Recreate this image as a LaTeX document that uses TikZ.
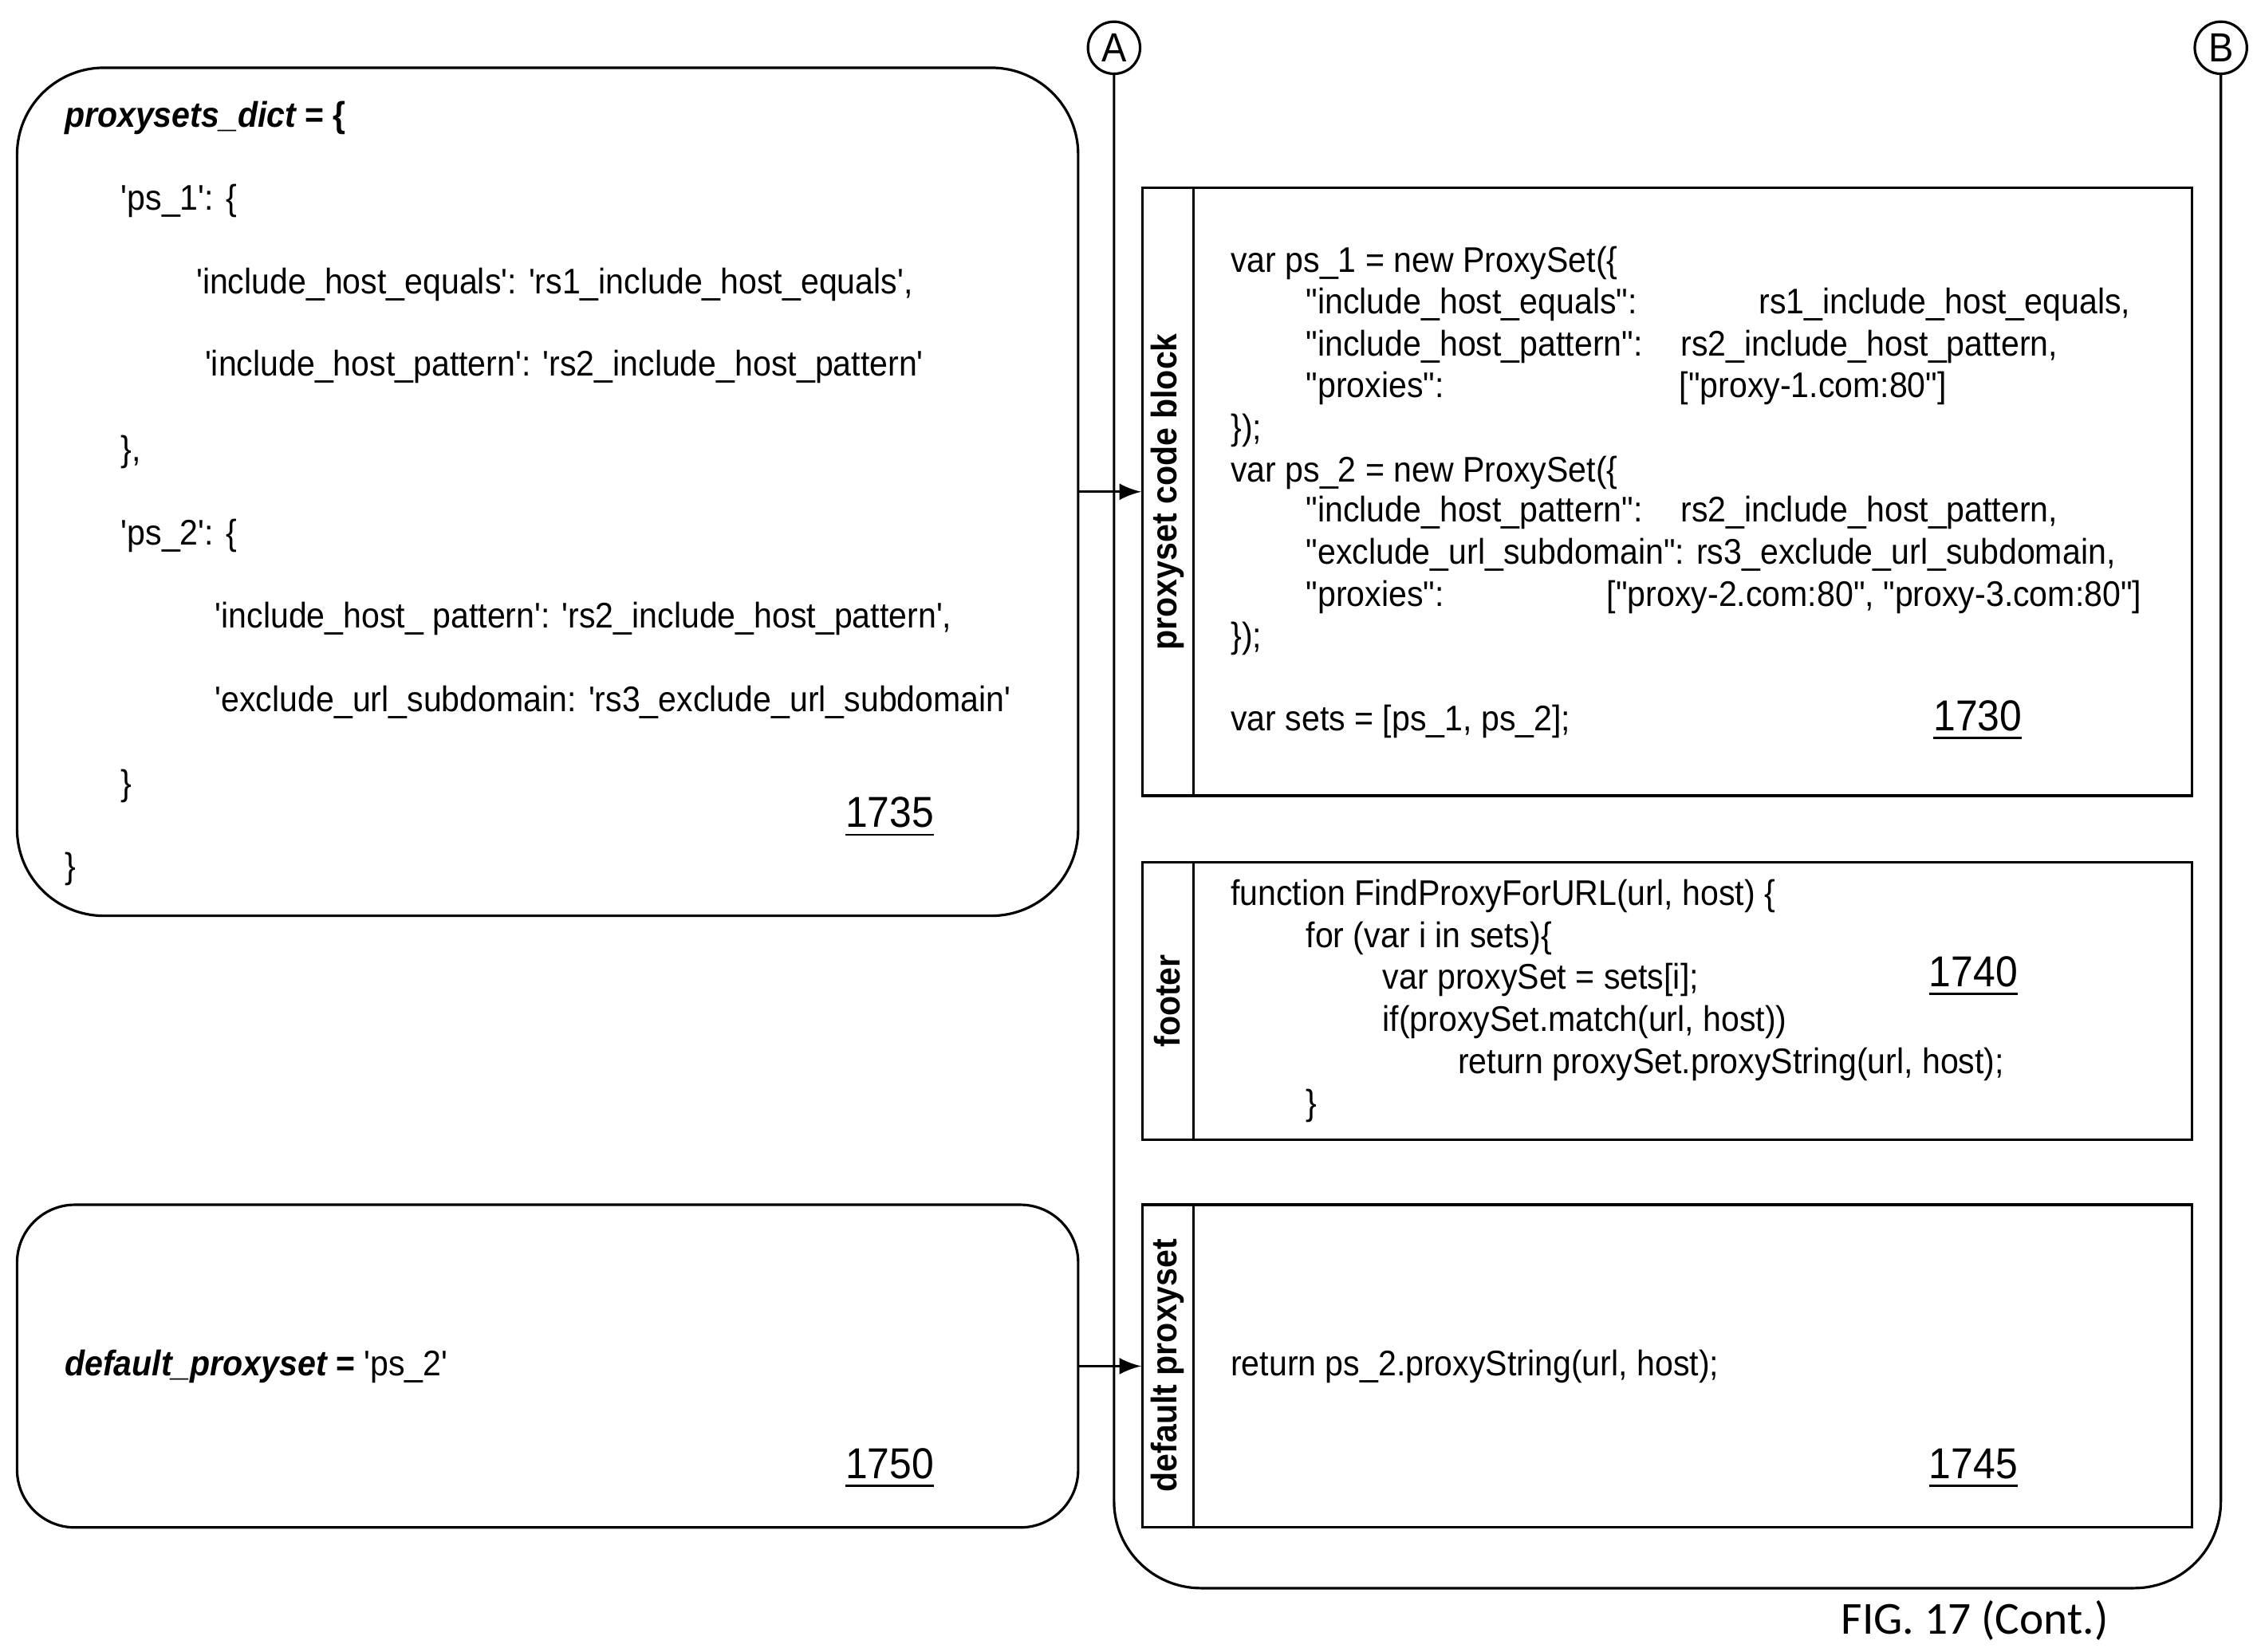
\documentclass[tikz,border=0pt]{standalone}
\usepackage{fontspec}
\newfontfamily\cf{Liberation Sans}[FakeStretch=0.92]
\newfontfamily\fig{Carlito}
\begin{document}
\begin{tikzpicture}[x=0.01cm,y=-0.01cm,
  t/.style={anchor=base west,inner sep=0,font=\cf\fontsize{7}{8}\selectfont},
  num/.style={anchor=base,inner sep=0,font=\cf\fontsize{8.5}{10}\selectfont},
  vl/.style={rotate=90,inner sep=0,font=\cf\bfseries\fontsize{7}{8}\selectfont},
  ln/.style={line width=0.5pt}]
\useasboundingbox (0,0) rectangle (1560,1142);
% left boxes
\node[draw,ln,rounded corners=0.6cm,minimum width=7.33cm,minimum height=5.86cm,inner sep=0] (lb1) at (378.5,340) {};
\node[draw,ln,rounded corners=0.4cm,minimum width=7.33cm,minimum height=2.23cm,inner sep=0] (lb2) at (378.5,944.5) {};
% connectors A/B
\node[draw,circle,ln,minimum size=0.36cm,inner sep=0,font=\cf\fontsize{8}{9}\selectfont] (A) at (770,33) {A};
\node[draw,circle,ln,minimum size=0.36cm,inner sep=0,font=\cf\fontsize{8}{9}\selectfont] (B) at (1535,33) {B};
\draw[ln,rounded corners=0.6cm] (A.south) -- (770,1098) -- (1535,1098) -- (B.south);
% right boxes
\node[draw,ln,fill=white,minimum width=7.25cm,minimum height=4.2cm,inner sep=0] (r1) at (1152.5,340) {};
\node[draw,ln,fill=white,minimum width=7.25cm,minimum height=1.92cm,inner sep=0] (r2) at (1152.5,692) {};
\node[draw,ln,fill=white,minimum width=7.25cm,minimum height=2.23cm,inner sep=0] (r3) at (1152.5,944.5) {};
\draw[ln] (825,130) -- (825,550) (825,596) -- (825,788) (825,833) -- (825,1056);
\node[vl] at (807,340) {proxyset code block};
\node[vl] at (807,692) {footer};
\node[vl] at (807,944) {default proxyset};
\draw[ln,-latex] (lb1.east) -- (r1.west);
\draw[ln,-latex] (lb2.east) -- (r3.west);
% left text
\node[t] at (44,88) {\bfseries\itshape proxysets\_dict\upshape{} = \{};
\node[t] at (83,145) {'ps\_1': \{};
\node[t] at (135,203) {'include\_host\_equals': 'rs1\_include\_host\_equals',};
\node[t] at (141,260) {'include\_host\_pattern': 'rs2\_include\_host\_pattern'};
\node[t] at (83,319) {\},};
\node[t] at (83,377) {'ps\_2': \{};
\node[t] at (148,434) {'include\_host\_ pattern': 'rs2\_include\_host\_pattern',};
\node[t] at (148,492) {'exclude\_url\_subdomain: 'rs3\_exclude\_url\_subdomain'};
\node[t] at (83,550) {\}};
\node[t] at (44,607) {\}};
\node[num] at (615,572) {\underline{1735}};
\node[t] at (44,951) {\bfseries\itshape default\_proxyset\upshape\mdseries{} \bfseries=\mdseries{} 'ps\_2'};
\node[num] at (615,1022) {\underline{1750}};
% right text
\node[t] at (850,188) {var ps\_1 = new ProxySet(\{};
\node[t] at (902,217) {"include\_host\_equals":};
\node[t] at (1215,217) {rs1\_include\_host\_equals,};
\node[t] at (902,246) {"include\_host\_pattern":};
\node[t] at (1161,246) {rs2\_include\_host\_pattern,};
\node[t] at (902,275) {"proxies":};
\node[t] at (1160,275) {["proxy-1.com:80"]};
\node[t] at (850,304) {\});};
\node[t] at (850,333) {var ps\_2 = new ProxySet(\{};
\node[t] at (902,361) {"include\_host\_pattern":};
\node[t] at (1161,361) {rs2\_include\_host\_pattern,};
\node[t] at (902,390) {"exclude\_url\_subdomain": rs3\_exclude\_url\_subdomain,};
\node[t] at (902,419) {"proxies":};
\node[t] at (1110,419) {["proxy-2.com:80", "proxy-3.com:80"]};
\node[t] at (850,448) {\});};
\node[t] at (850,505) {var sets = [ps\_1, ps\_2];};
\node[num] at (1367,505) {\underline{1730}};
\node[t] at (850,626) {function FindProxyForURL(url, host) \{};
\node[t] at (902,655) {for (var i in sets)\{};
\node[t] at (955,684) {var proxySet = sets[i];};
\node[t] at (955,713) {if(proxySet.match(url, host))};
\node[t] at (1007,742) {return proxySet.proxyString(url, host);};
\node[t] at (902,771) {\}};
\node[num] at (1364,682) {\underline{1740}};
\node[t] at (850,951) {return ps\_2.proxyString(url, host);};
\node[num] at (1364,1022) {\underline{1745}};
\node[anchor=base,inner sep=0,font=\fig\fontsize{9}{10}\selectfont] at (1365,1130) {FIG. 17 (Cont.)};
\end{tikzpicture}
\end{document}
